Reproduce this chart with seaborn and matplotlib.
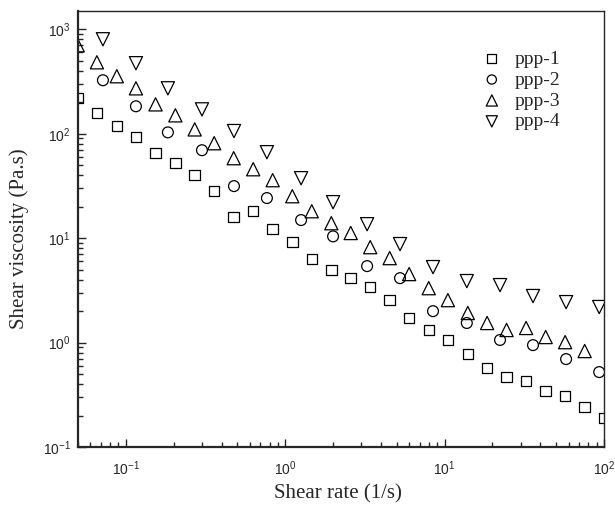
import matplotlib
matplotlib.use("Agg")
import matplotlib.pyplot as plt
import seaborn as sns
import pandas as pd

# shear rates (1/s)
rate_a = [0.050, 0.066, 0.088, 0.116, 0.154, 0.205, 0.271, 0.359, 0.476, 0.631,
          0.836, 1.11, 1.47, 1.95, 2.58, 3.42, 4.53, 6.00, 7.96, 10.5,
          14.0, 18.5, 24.5, 32.5, 43.1, 57.1, 75.7, 100.0]
rate_b = [0.072, 0.116, 0.184, 0.301, 0.478, 0.769, 1.26, 2.00, 3.27, 5.26,
          8.47, 13.8, 22.3, 35.9, 57.9, 93.4]

# shear viscosity (Pa.s)
ppp1 = [219, 157, 118, 92.6, 65.1, 52.2, 40.1, 28.2, 15.9, 18.1,
        12.2, 9.16, 6.30, 4.94, 4.14, 3.40, 2.55, 1.72, 1.32, 1.06,
        0.776, 0.570, 0.468, 0.428, 0.344, 0.308, 0.242, 0.190]
ppp2 = [325, 183, 103, 69.5, 31.5, 24.2, 14.9, 10.4, 5.40, 4.14,
        2.00, 1.54, 1.06, 0.946, 0.695, 0.522]
ppp3 = [703, 483, 355, 272, 191, 150, 110, 81.1, 58.3, 45.7,
        35.9, 25.2, 18.1, 13.9, 11.2, 8.20, 6.44, 4.53, 3.32, 2.55,
        1.92, 1.54, 1.32, 1.38, 1.13, 1.01, 0.830]
ppp4 = [802, 473, 272, 171, 106, 66.5, 37.5, 22.1, 13.6, 8.77,
        5.28, 3.88, 3.55, 2.79, 2.44, 2.19]

labels = ["ppp-1", "ppp-2", "ppp-3", "ppp-4"]
markers = ["s", "o", "^", "v"]
sizes = [7.5, 7.8, 9.5, 9.5]

sns.set_style("ticks")
plt.rcParams["font.family"] = ["Liberation Sans", "DejaVu Sans"]
plt.rcParams["mathtext.fontset"] = "custom"
plt.rcParams["mathtext.rm"] = "Liberation Sans"

frames = [
    pd.DataFrame({"rate": rate_a, "visc": ppp1}),
    pd.DataFrame({"rate": rate_b, "visc": ppp2}),
    pd.DataFrame({"rate": rate_a[:len(ppp3)], "visc": ppp3}),
    pd.DataFrame({"rate": rate_b, "visc": ppp4}),
]

fig = plt.figure(figsize=(6.15, 5.08), dpi=100)
ax = fig.add_axes([0.1263, 0.120, 0.8557, 0.858])

for df, lab, mk, ms in zip(frames, labels, markers, sizes):
    sns.scatterplot(data=df, x="rate", y="visc", ax=ax, marker=mk, s=ms ** 2,
                    facecolors="none", edgecolor="black", linewidth=0.9,
                    label=lab, clip_on=True)

ax.set_xscale("log")
ax.set_yscale("log")
ax.set_xlim(0.05, 100)
ax.set_ylim(0.1, 1490)

ax.tick_params(which="both", direction="in", top=False, right=False,
               labelsize=10, width=1)
ax.tick_params(which="major", length=6)
ax.tick_params(which="minor", length=3.5)
ax.tick_params(axis="x", pad=9)
ax.tick_params(axis="y", pad=5)
for side in ["left", "bottom"]:
    ax.spines[side].set_linewidth(1.6)
for side in ["top", "right"]:
    ax.spines[side].set_linewidth(1.0)

serif = ["Liberation Serif", "DejaVu Serif"]
ax.set_xlabel("Shear rate (1/s)", family=serif, fontsize=15)
ax.set_ylabel("Shear viscosity (Pa.s)", family=serif, fontsize=15)
ax.xaxis.set_label_coords(0.4955, -0.085)
ax.yaxis.set_label_coords(-0.0925, 0.479)

leg = ax.legend(loc="upper left", bbox_to_anchor=(0.750, 0.933), frameon=False,
                prop={"family": serif, "size": 14}, borderpad=0,
                handlelength=1.0, handletextpad=0.68,
                labelspacing=0.17, markerscale=0.85)

fig.savefig("out.png", dpi=100)
